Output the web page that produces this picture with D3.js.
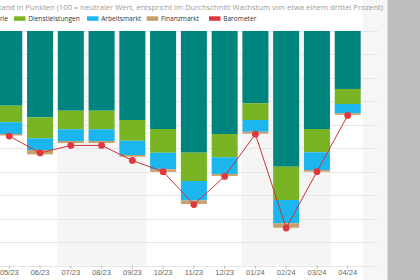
<!DOCTYPE html>
<html>
<head>
<meta charset="utf-8">
<script src="https://cdn.jsdelivr.net/npm/d3@7"></script>
<style>
  html, body { margin: 0; padding: 0; background: #fff; }
  svg { display: block; font-family: "Open Sans", "DejaVu Sans", sans-serif; }
  .grid line { stroke: #e6e6e6; stroke-width: 1; }
  .x.axis text { fill: #666; font-size: 7.5px; }
  .x.axis line { stroke: #bbb; }
  .x.axis path { display: none; }
</style>
</head>
<body>
<div id="chart"></div>
<script>
// Data. Components are stacked downward from the top of the scale.
var months = ["05/23", "06/23", "07/23", "08/23", "09/23", "10/23", "11/23", "12/23", "01/24", "02/24", "03/24", "04/24"];
var industrie = [7.96, 9.2, 8.5, 8.5, 9.49, 10.45, 12.97, 10.98, 7.71, 14.47, 10.45, 6.18];
var dienstleistungen = [1.77, 2.24, 1.98, 1.98, 2.21, 2.53, 3.02, 2.48, 1.78, 3.55, 2.48, 1.6];
var arbeitsmarkt = [1.25, 1.25, 1.25, 1.25, 1.52, 1.77, 2.08, 1.78, 1.25, 2.48, 1.89, 0.99];
var finanzmarkt = [0.16, 0.46, 0.21, 0.21, 0.18, 0.26, 0.37, 0.21, 0.21, 0.47, 0.18, 0.18];
var barometer = [88.8, 87.0, 87.8, 87.8, 86.2, 85.0, 81.5, 84.5, 89.0, 79.0, 85.0, 91.0];
var yTicks = [75, 77.5, 80, 82.5, 85, 87.5, 90, 92.5, 95, 97.5, 100];
var shadedQuarters = [["07/23", "09/23"], ["01/24", "03/24"]];

var seriesNames = ["Industrie", "Dienstleistungen", "Arbeitsmarkt", "Finanzmarkt"];
var seriesValues = [industrie, dienstleistungen, arbeitsmarkt, finanzmarkt];
var COLORS = {
  Industrie: "#00847e",
  Dienstleistungen: "#78b423",
  Arbeitsmarkt: "#1cb6ee",
  Finanzmarkt: "#c9a06c",
  Barometer: "#e0383d"
};

var titleText = "KOF Konjunkturbarometer und Komponenten, Indexstand in Punkten (100 = neutraler Wert, entspricht im Durchschnitt Wachstum von etwa einem drittel Prozent)";

var render = function() {
  var width = 420, height = 280;
  var plot = { left: -6.1, right: 363.1, top: 31, bottom: 265.5 };

  var svg = d3.select("#chart").append("svg")
    .attr("width", width)
    .attr("height", height);

  // page backgrounds
  svg.append("rect").attr("x", 363).attr("y", 0).attr("width", 25).attr("height", height).attr("fill", "#f6f6f6");
  svg.append("rect").attr("x", 387.5).attr("y", 0).attr("width", 32.5).attr("height", height).attr("fill", "#bebebe");

  var xScale = d3.scaleBand()
    .domain(months)
    .range([plot.left, plot.right])
    .paddingInner(0.155)
    .paddingOuter(0.0775);

  var yScale = d3.scaleLinear()
    .domain([yTicks[0], yTicks[yTicks.length - 1]])
    .range([plot.bottom, plot.top]);

  // quarter shading
  svg.append("g")
    .selectAll("rect")
    .data(shadedQuarters)
    .enter()
    .append("rect")
    .attr("x", d => xScale(d[0]) - 1)
    .attr("y", plot.top)
    .attr("width", d => xScale(d[1]) + xScale.bandwidth() + 2 - xScale(d[0]))
    .attr("height", plot.bottom - plot.top)
    .attr("fill", "#f5f5f5");

  // grid
  svg.append("g")
    .attr("class", "grid")
    .selectAll("line")
    .data(yTicks)
    .enter()
    .append("line")
    .attr("x1", plot.left)
    .attr("x2", 378)
    .attr("y1", d => Math.round(yScale(d)) + 0.5)
    .attr("y2", d => Math.round(yScale(d)) + 0.5);

  // stacked components, downward from the top of the scale
  var top = yScale.domain()[1];
  var stacks = months.map(function(m, i) {
    var acc = top;
    return seriesNames.map(function(name, s) {
      var v = seriesValues[s][i];
      var seg = { month: m, name: name, y0: acc, y1: acc - v };
      acc -= v;
      return seg;
    });
  });

  svg.append("g")
    .attr("class", "bars")
    .selectAll("g")
    .data(stacks)
    .enter()
    .append("g")
    .selectAll("rect")
    .data(d => d)
    .enter()
    .append("rect")
    .attr("x", d => xScale(d.month))
    .attr("width", xScale.bandwidth())
    .attr("y", d => yScale(d.y0))
    .attr("height", d => yScale(d.y1) - yScale(d.y0))
    .attr("fill", d => COLORS[d.name]);

  // x axis
  var xAxis = d3.axisBottom(xScale).tickSize(3).tickPadding(1);
  svg.append("g")
    .attr("class", "x axis")
    .attr("transform", `translate(0,${plot.bottom})`)
    .call(xAxis);

  // barometer line
  var pts = months.map((m, i) => ({ month: m, value: barometer[i] }));
  var line = d3.line()
    .x(d => xScale(d.month) + xScale.bandwidth() / 2)
    .y(d => yScale(d.value));

  svg.append("path")
    .datum(pts)
    .attr("d", line)
    .attr("fill", "none")
    .attr("stroke", "#c9343a")
    .attr("stroke-width", 1);

  svg.append("g")
    .selectAll("circle")
    .data(pts)
    .enter()
    .append("circle")
    .attr("cx", d => xScale(d.month) + xScale.bandwidth() / 2)
    .attr("cy", d => yScale(d.value))
    .attr("r", 3.4)
    .attr("fill", COLORS.Barometer);

  // title (left part falls outside the window)
  svg.append("text")
    .attr("x", 383)
    .attr("y", 9.5)
    .attr("text-anchor", "end")
    .attr("fill", "#9a9a9a")
    .style("font-size", "7.6px")
    .text(titleText);

  // legend; "Industrie" is mostly cut off on the left like in the original
  var legendNames = seriesNames.concat(["Barometer"]);
  var legendX = [-40, 14, 87, 146.7, 209];
  var legend = svg.append("g").attr("class", "legend");
  var items = legend.selectAll("g")
    .data(legendNames)
    .enter()
    .append("g")
    .attr("transform", (d, i) => `translate(${legendX[i]},0)`);
  items.append("rect")
    .attr("width", 11.5)
    .attr("height", 4.5)
    .attr("y", 16.3)
    .attr("fill", d => COLORS[d]);
  items.append("text")
    .attr("y", 20.6)
    .attr("fill", "#333")
    .style("font-size", "6.6px")
    .text(d => d);

  // "Industrie" ends near x = 8
  items.select("text").attr("x", function(d, i) {
    return i === 0 ? 48 - this.getComputedTextLength() : 14.2;
  });
};

window.onload = render;
</script>
</body>
</html>
